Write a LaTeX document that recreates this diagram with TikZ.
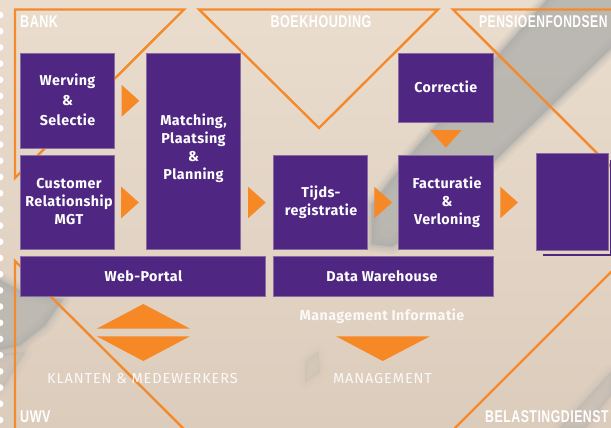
\documentclass[tikz,border=0pt]{standalone}
\usepackage{graphicx}
\usepackage{fontspec}
\setmainfont{Fira Sans}
\newfontfamily\headfont[FakeStretch=0.74,LetterSpace=3]{Liberation Sans}
\newfontfamily\lblfont[LetterSpace=3]{Fira Sans}
\newfontfamily\softfont[LetterSpace=6]{Fira Sans}
\tikzset{
  pbox/.style={draw=boxedge,line width=.6pt,fill=boxfill},
  lbl/.style={text=white,font=\lblfont\fontsize{14.3}{18}\selectfont\bfseries,align=center,inner sep=0pt},
  soft/.style={text=white,opacity=.88,font=\softfont\fontsize{14.5}{16}\selectfont,inner sep=0pt},
  head/.style={text=white,font=\headfont\fontsize{17}{18}\selectfont\bfseries,inner sep=0pt},
  tri/.style={draw=orangeline,line width=2.4pt,miter limit=10},
  tip/.style={fill=orangefill}
}
\definecolor{boxfill}{HTML}{4F2682}
\definecolor{boxedge}{HTML}{8A6AA3}
\definecolor{orangeline}{HTML}{F58A2C}
\definecolor{orangefill}{HTML}{F68826}
\definecolor{bgA}{HTML}{EADDCE}
\definecolor{bgB}{HTML}{DCCCBC}
\definecolor{band}{HTML}{AEAEAB}
\newcommand{\softpoly}[2]{%
  \foreach \w/\o in {16/.14,11/.2,6/.3,2/.5}{\draw[band,line width=\w pt,line join=round,opacity=\o*#1,fill=band,fill opacity=\o*#1] #2;}
}
\begin{document}
\begin{tikzpicture}[x=1pt,y=-1pt]
\useasboundingbox (0,0) rectangle (611,428);
\begin{scope}
\clip (0,0) rectangle (611,428);
\shade[top color=bgA,bottom color=bgB] (0,0) rectangle (611,428);
% photographic background
\softpoly{1}{(556,-10) -- (640,-10) -- (640,20) -- (505,150) -- (440,215) -- (392,246) -- (372,244) -- (372,205) -- (415,150) -- cycle}
\softpoly{.8}{(-10,275) -- (22,292) -- (62,300) -- (45,325) -- (20,345) -- (-10,352) -- cycle}
\softpoly{.3}{(611,372) -- (611,395) -- (585,428) -- (560,428) -- cycle}
\softpoly{.25}{(-10,355) -- (25,352) -- (5,385) -- (-10,395) -- cycle}
\softpoly{.12}{(305,362) -- (318,352) -- (320,372) -- (305,382) -- cycle}
% perforated edge
\foreach \n in {0,...,25}{\fill[white] (0,15+16.2*\n) circle[radius=3.4];}
% large triangles
\draw[tri] (15,9.5) -- (184,9.5) -- (15,178) -- cycle;
\draw[tri] (199,9.5) -- (438,9.5) -- (319,128) -- cycle;
\draw[tri] (625,9.5) -- (453,9.5) -- (625,181);
\draw[tri] (15,440) -- (15,261) -- (195,440);
\draw[tri] (625,258) -- (455,428) -- (440,443);
% stripe of the box behind the last one
\draw[boxfill,line width=2pt] (611,160) -- (611,254.5) -- (542.5,254.5);
\end{scope}
% boxes
\draw[pbox] (536,153.5) rectangle (608,250.5);
\draw[pbox] (20.5,53) rectangle (114.5,148);
\node[lbl,font=\lblfont\fontsize{14.3}{20}\selectfont\bfseries] (wer) at (67.5,100) {Werving\\\&\\Selectie};
\draw[pbox] (20.5,155) rectangle (114.5,249);
\node[lbl] (crm) at (69,202) {Customer\\Relationship\\MGT};
\draw[pbox] (146.5,53) rectangle (240.5,249);
\node[lbl] (mat) at (193.5,148.5) {Matching,\\Plaatsing\\\&\\Planning};
\draw[pbox] (273,155) rectangle (367,249);
\node[lbl] (tij) at (321,202) {Tijds-\\registratie};
\draw[pbox] (398.7,53) rectangle (493,122.7);
\node[lbl] (cor) at (445.8,87) {Correctie};
\draw[pbox] (398.7,155) rectangle (493,249);
\node[lbl] (fac) at (447,202) {Facturatie\\\&\\Verloning};
\draw[pbox] (20.5,256.7) rectangle (265.5,296.5);
\node[lbl] (web) at (143.5,276.5) {Web-Portal};
\draw[pbox] (273,256.7) rectangle (493,296.5);
\node[lbl] (dwh) at (382,276.5) {Data Warehouse};
% orange pointers
\fill[tip] (121.7,85) -- (139.3,100.8) -- (121.7,116.7) -- cycle;
\fill[tip] (121.2,186.7) -- (138.8,202.5) -- (121.2,218.3) -- cycle;
\fill[tip] (248,186.7) -- (265.7,202.5) -- (248,218.3) -- cycle;
\fill[tip] (374.3,186.7) -- (392,202.5) -- (374.3,218.3) -- cycle;
\fill[tip] (500.3,186.7) -- (517.9,202.5) -- (500.3,218.3) -- cycle;
\fill[tip] (430,130) -- (461.7,130) -- (445.8,147.7) -- cycle;
\fill[tip] (96.7,328.7) -- (143.3,304) -- (190,328.7) -- cycle;
\fill[tip] (96.7,336.3) -- (190,336.3) -- (143.3,361) -- cycle;
\fill[tip] (336,336.3) -- (430,336.3) -- (382.7,361) -- cycle;
% free labels
\node[soft,font=\lblfont\fontsize{14.3}{16}\selectfont\bfseries] (mi) at (382,316.5) {Management Informatie};
\node[soft] (kl) at (142.5,379) {KLANTEN \& MEDEWERKERS};
\node[soft] (mg) at (382.5,379) {MANAGEMENT};
\node[head,anchor=west] (bank) at (20,22) {BANK};
\node[head] (boek) at (321,22) {BOEKHOUDING};
\node[head,anchor=west] (pen) at (479,22) {\scalebox{.96}[1]{PENSIOENFONDSEN}};
\node[head,anchor=west] (uwv) at (20,417) {UWV};
\node[head,anchor=west] (bel) at (485,417) {\scalebox{.98}[1]{BELASTINGDIENST}};
\end{tikzpicture}
\end{document}
